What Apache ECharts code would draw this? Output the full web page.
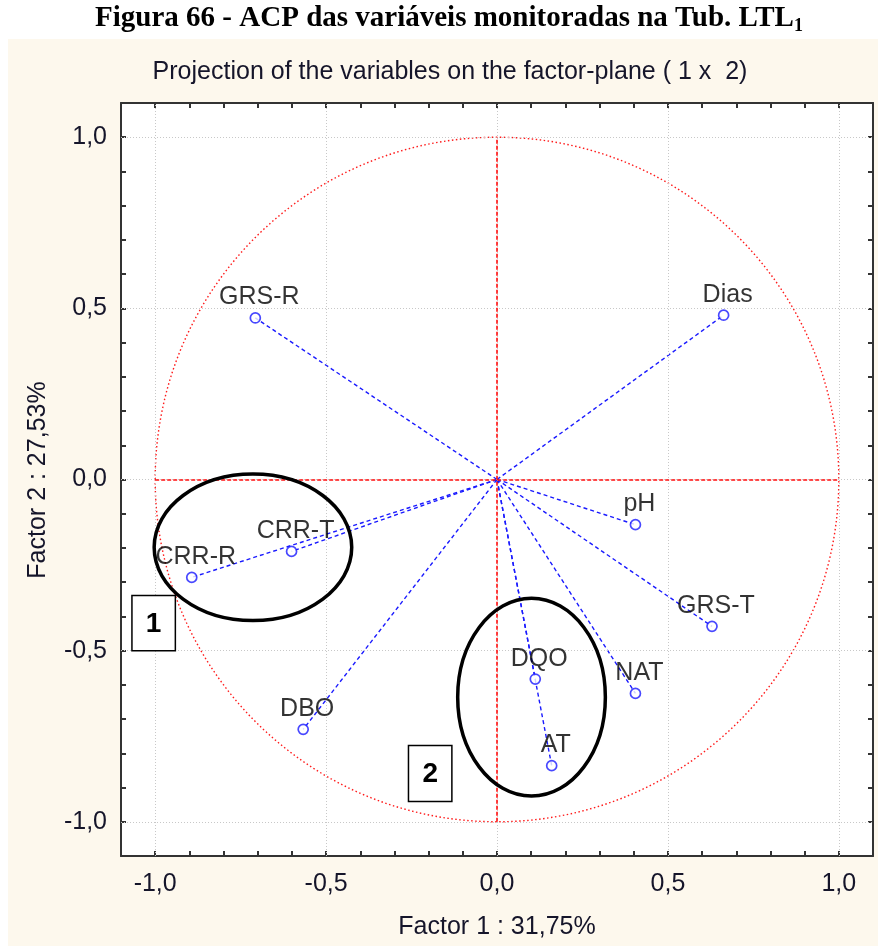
<!DOCTYPE html>
<html>
<head>
<meta charset="utf-8">
<script src="https://cdn.jsdelivr.net/npm/echarts@6/dist/echarts.min.js"></script>
<style>
  html, body { margin: 0; padding: 0; background: #ffffff; }
  #chart { width: 878px; height: 946px; }
</style>
</head>
<body>
<div id="chart"></div>
<script>
// Loadings of the monitored variables on the first two factors
const variables = ['GRS-R', 'Dias', 'pH', 'GRS-T', 'NAT', 'DQO', 'AT', 'DBO', 'CRR-T', 'CRR-R'];
const factor1 = [-0.707, 0.663, 0.405, 0.629, 0.405, 0.112, 0.160, -0.567, -0.601, -0.893];
const factor2 = [0.472, 0.480, -0.132, -0.429, -0.625, -0.583, -0.836, -0.730, -0.210, -0.286];

// Major gridline positions (labelled ticks)
const majorTicks = [-1.0, -0.5, 0.0, 0.5, 1.0];

// Group outlines: centre x, centre y, half-width, half-height (factor units)
const groupCentreX = [-0.714, 0.101];
const groupCentreY = [-0.198, -0.636];
const groupHalfW = [0.289, 0.216];
const groupHalfH = [0.214, 0.289];

// Numbered group tags: x from, x to, y from, y to (factor units)
const tagLabels = ['1', '2'];
const tagX0 = [-1.068, -0.259];
const tagX1 = [-0.941, -0.132];
const tagY0 = [-0.500, -0.941];
const tagY1 = [-0.339, -0.777];

const SANS = "'Liberation Sans', Arial, sans-serif";
const SERIF = "'Liberation Serif', 'Times New Roman', serif";
const TEXT_COLOR = '#15152a';

function tickLabel(v) {
  const k = Math.round(v * 10);
  if (k % 5 !== 0) return '';
  return (k / 10).toFixed(1).replace('.', ',');
}

const points = variables.map((name, i) => ({ name: name, value: [factor1[i], factor2[i]] }));
const vectors = variables.map((name, i) => ({ name: name, coords: [[0, 0], [factor1[i], factor2[i]]] }));

const gridLineData = majorTicks.map(v => ({ xAxis: v }))
  .concat(majorTicks.map(v => ({ yAxis: v })));

const axisCommon = {
  type: 'value',
  min: -1.1,
  max: 1.1,
  interval: 0.1,
  axisLine: { show: true, onZero: false, lineStyle: { color: '#333333', width: 2 } },
  axisTick: { show: true, inside: true, length: 5, lineStyle: { color: '#333333', width: 2 } },
  splitLine: { show: false }
};

const chart = echarts.init(document.getElementById('chart'), null, { renderer: 'canvas' });

chart.setOption({
  backgroundColor: '#ffffff',
  animation: false,
  graphic: [
    {
      type: 'rect', z: -10, silent: true,
      shape: { x: 8, y: 39, width: 870, height: 907 },
      style: { fill: '#fdf8ed' }
    },
    {
      type: 'text', silent: true,
      x: 449, y: 19,
      style: {
        text: '{m|Figura 66 - ACP das variáveis monitoradas na Tub. LTL}{s|1}',
        x: 0, y: 0, align: 'center', verticalAlign: 'middle',
        rich: {
          m: { fontFamily: SERIF, fontWeight: 'bold', fontSize: 29, fill: '#000', lineHeight: 32 },
          s: { fontFamily: SERIF, fontWeight: 'bold', fontSize: 18, fill: '#000', lineHeight: 18, verticalAlign: 'bottom' }
        }
      }
    },
    {
      type: 'text', silent: true,
      style: {
        text: 'Projection of the variables on the factor-plane ( 1 x  2)',
        x: 450, y: 72, align: 'center', verticalAlign: 'middle',
        fontFamily: SANS, fontSize: 25, fill: TEXT_COLOR
      }
    },
    {
      type: 'text', silent: true,
      style: {
        text: 'Factor 1 : 31,75%',
        x: 497, y: 927, align: 'center', verticalAlign: 'middle',
        fontFamily: SANS, fontSize: 25, fill: TEXT_COLOR
      }
    },
    {
      type: 'text', silent: true,
      x: 38, y: 480, rotation: Math.PI / 2,
      style: {
        text: 'Factor 2 : 27,53%',
        x: 0, y: 0, align: 'center', verticalAlign: 'middle',
        fontFamily: SANS, fontSize: 25, fill: TEXT_COLOR
      }
    }
  ],
  grid: {
    left: 121, right: 5, top: 103, bottom: 90,
    show: true, backgroundColor: '#ffffff', borderWidth: 0
  },
  xAxis: [
    Object.assign({}, axisCommon, {
      position: 'bottom',
      axisLabel: { show: true, margin: 16, formatter: tickLabel, fontFamily: SANS, fontSize: 25, color: TEXT_COLOR, showMinLabel: true, showMaxLabel: true }
    }),
    Object.assign({}, axisCommon, { position: 'top', axisLabel: { show: false } })
  ],
  yAxis: [
    Object.assign({}, axisCommon, {
      position: 'left',
      axisLabel: { show: true, margin: 14, formatter: tickLabel, fontFamily: SANS, fontSize: 25, color: TEXT_COLOR }
    }),
    Object.assign({}, axisCommon, { position: 'right', axisLabel: { show: false } })
  ],
  series: [
    // dotted background gridlines
    {
      type: 'line', data: [], silent: true, z: 1,
      markLine: {
        silent: true, symbol: 'none', label: { show: false },
        lineStyle: { color: '#c8c8c8', type: [1, 2], width: 1 },
        data: gridLineData
      }
    },
    // unit correlation circle
    {
      type: 'custom', silent: true, z: 2,
      data: [[0, 0, 1, 1]],
      renderItem: function (params, api) {
        const c = api.coord([api.value(0), api.value(1)]);
        const s = api.size([api.value(2), api.value(3)]);
        return {
          type: 'ellipse',
          shape: { cx: c[0], cy: c[1], rx: s[0], ry: s[1] },
          style: { fill: 'none', stroke: '#ff1a1a', lineWidth: 1.4, lineDash: [1.5, 2.5] }
        };
      }
    },
    // red axes through the origin
    {
      type: 'line', data: [], silent: true, z: 3,
      markLine: {
        silent: true, symbol: 'none', label: { show: false },
        lineStyle: { color: '#ff1010', type: [4, 2], width: 1.6, opacity: 1 },
        data: [
          [{ coord: [-1, 0] }, { coord: [1, 0] }],
          [{ coord: [0, -1] }, { coord: [0, 1] }]
        ]
      }
    },
    // loading vectors
    {
      type: 'lines', coordinateSystem: 'cartesian2d', silent: true, z: 4,
      polyline: false,
      lineStyle: { color: '#1a1aff', width: 1.4, type: [4, 3], opacity: 1 },
      data: vectors
    },
    // variable points
    {
      type: 'scatter', z: 5,
      symbol: 'circle', symbolSize: 10,
      itemStyle: { color: '#ffffff', borderColor: '#1a1aff', borderWidth: 1.7 },
      label: {
        show: true, position: 'top', distance: 2, offset: [4, 0],
        formatter: '{b}', fontFamily: SANS, fontSize: 25, color: '#000000'
      },
      data: points
    },
    // group outlines
    {
      type: 'custom', silent: true, z: 6,
      data: groupCentreX.map((x, i) => [x, groupCentreY[i], groupHalfW[i], groupHalfH[i]]),
      renderItem: function (params, api) {
        const c = api.coord([api.value(0), api.value(1)]);
        const s = api.size([api.value(2), api.value(3)]);
        return {
          type: 'ellipse',
          shape: { cx: c[0], cy: c[1], rx: s[0], ry: s[1] },
          style: { fill: 'none', stroke: '#000000', lineWidth: 3.5 }
        };
      }
    },
    // numbered group tags
    {
      type: 'custom', silent: true, z: 7,
      data: tagLabels.map((t, i) => [tagX0[i], tagY0[i], tagX1[i], tagY1[i]]),
      renderItem: function (params, api) {
        const a = api.coord([api.value(0), api.value(3)]);
        const b = api.coord([api.value(2), api.value(1)]);
        const w = b[0] - a[0], h = b[1] - a[1];
        return {
          type: 'group',
          children: [
            { type: 'rect', shape: { x: a[0], y: a[1], width: w, height: h },
              style: { fill: '#ffffff', stroke: '#000000', lineWidth: 1.5 } },
            { type: 'text', style: {
                text: tagLabels[params.dataIndex], x: a[0] + w / 2, y: a[1] + h / 2 + 1,
                align: 'center', verticalAlign: 'middle',
                fontFamily: SANS, fontWeight: 'bold', fontSize: 28, fill: '#000000' } }
          ]
        };
      }
    }
  ]
});
</script>
</body>
</html>
